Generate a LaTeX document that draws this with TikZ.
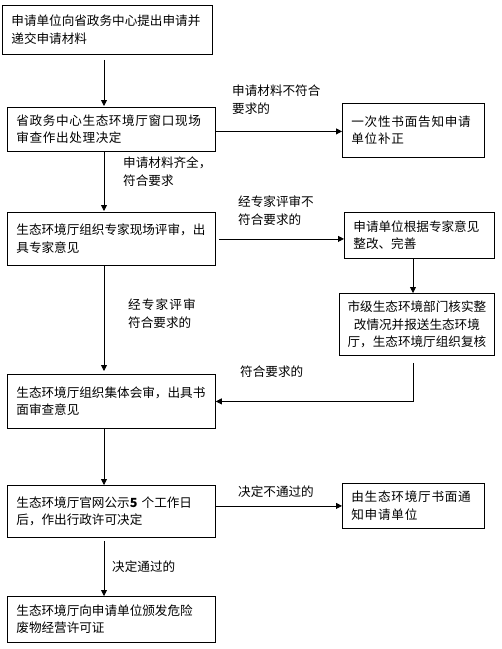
\documentclass[tikz,border=0pt]{standalone}
\usepackage{fontspec}
\setmainfont{Noto Sans CJK SC}
\usetikzlibrary{arrows.meta}
\begin{document}
\begin{tikzpicture}[x=1pt,y=-1pt,
  txt/.style={font=\fontsize{12.6}{17.5}\selectfont},
  box/.style={txt,draw,line width=0.8pt,anchor=north west,align=left,inner xsep=9pt,inner ysep=0pt},
  lbl/.style={txt,anchor=north west,align=left,inner sep=0pt},
  arr/.style={line width=0.8pt,-{Triangle[length=6pt,width=6pt]}}]
\useasboundingbox (0,0) rectangle (502,649);
\coordinate (ax) at (104,0);
\coordinate (bx) at (413,0);
% boxes
\node[box,minimum width=210,minimum height=49,text width=192] (b1) at (2,5)
  {申请单位向省政务中心提出申请并\\递交申请材料};
\node[box,minimum width=205,minimum height=44,text width=190] (b2) at (7,107)
  {\addfontfeatures{LetterSpace=5}省政务中心生态环境厅窗口现场\\审查作出处理决定};
\node[box,minimum width=140,minimum height=54,text width=124] (b3) at (342,103)
  {\addfontfeatures{LetterSpace=6}一次性书面告知申请\\单位补正};
\node[box,minimum width=205,minimum height=53,text width=190] (b4) at (7,212)
  {生态环境厅组织专家现场评审，出\\具专家意见};
\node[box,minimum width=147,minimum height=46,text width=132] (b5) at (344,212)
  {申请单位根据专家意见\\整改、完善};
\node[box,minimum width=155,minimum height=62,align=center,inner xsep=0pt] (b6) at (339,293)
  {市级生态环境部门核实整\\改情况并报送生态环境\\厅，生态环境厅组织复核};
\node[box,minimum width=205,minimum height=54,text width=190] (b7) at (7,374)
  {生态环境厅组织集体会审，出具书\\面审查意见};
\node[box,minimum width=205,minimum height=52,text width=190] (b8) at (7,485)
  {生态环境厅官网公示{\bfseries 5} 个工作日\\后，作出行政许可决定};
\node[box,minimum width=140,minimum height=45,text width=124] (b9) at (342,483)
  {\addfontfeatures{LetterSpace=6}由生态环境厅书面通\\知申请单位};
\node[box,minimum width=205,minimum height=46,text width=190] (b10) at (7,596)
  {生态环境厅向申请单位颁发危险\\废物经营许可证};
% labels
\node[lbl] (l1) at (232,85) {申请材料不符合\\要求的};
\node[lbl] (l2) at (123,157) {申请材料齐全，\\符合要求};
\node[lbl] (l3) at (238,196) {经专家评审不\\符合要求的};
\node[lbl] (l4) at (128,299) {\addfontfeatures{LetterSpace=9}经专家评审\\\addfontfeatures{LetterSpace=0}符合要求的};
\node[lbl] (l5) at (240,366) {符合要求的};
\node[lbl] (l6) at (238,486) {决定不通过的};
\node[lbl] (l7) at (112,561) {决定通过的};
% connectors
\draw[arr,shorten <=5pt,shorten >=1pt] (b1.south -| ax) -- (b2.north -| ax);
\draw[arr] ([yshift=-2pt]b2.east) -- ([yshift=-2pt]b2.east -| b3.west);
\draw[arr,shorten >=1pt] (b2.south -| ax) -- (b4.north -| ax);
\draw[arr,shorten <=3pt] (b4.east) -- (b4.east -| b5.west);
\draw[arr] (b5.south -| bx) -- (b6.north -| bx);
\draw[arr,shorten <=7pt] (b6.south -| bx) |- (b7.east);
\draw[arr,shorten >=3pt] (b4.south -| ax) -- (b7.north -| ax);
\draw[arr] (b7.south -| ax) -- (b8.north -| ax);
\draw[arr] (b9.west -| b8.east) -- (b9.west);
\draw[arr,shorten <=3pt] (b8.south -| ax) -- (b10.north -| ax);
\end{tikzpicture}
\end{document}
